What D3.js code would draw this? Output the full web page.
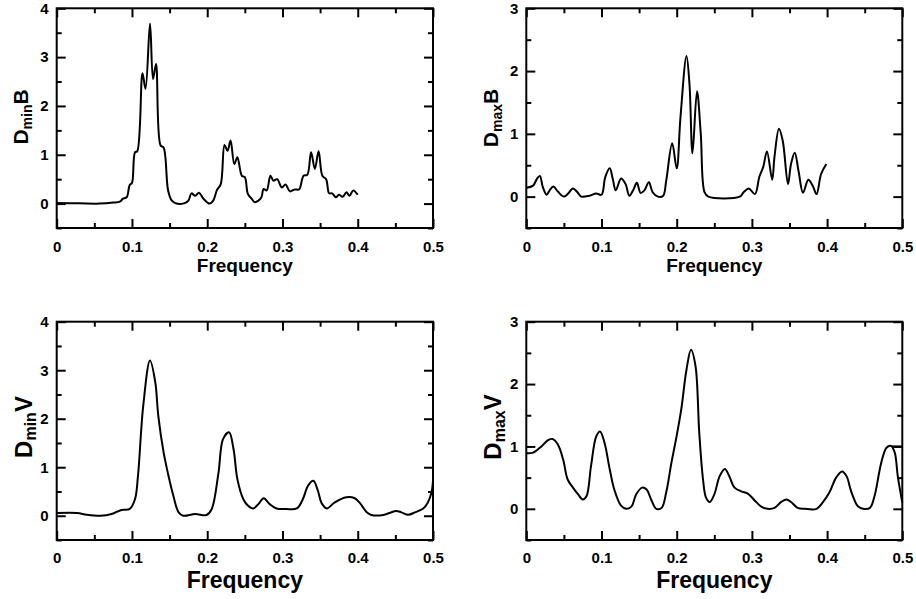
<!DOCTYPE html>
<html>
<head>
<meta charset="utf-8">
<script src="https://cdn.jsdelivr.net/npm/d3@7"></script>
<style>
  body { margin: 0; background: #fff; }
  svg { display: block; }
  text { font-family: "Liberation Sans", Arial, sans-serif; font-weight: bold; fill: #000; }
</style>
</head>
<body>
<div id="chart"></div>
<script>
// ticks
const xTicks = [0, 0.1, 0.2, 0.3, 0.4, 0.5];
const xMinor = [0.05, 0.15, 0.25, 0.35, 0.45];
const yTicksB = [0, 1, 2, 3, 4];
const yMinorB = [-0.5, 0.5, 1.5, 2.5, 3.5];
const yTicksA = [0, 1, 2, 3];
const yMinorA = [-0.5, 0.5, 1.5, 2.5];

// [frequency, value]
const minB = [
  [0, 0.01], [0.03, 0.005], [0.057, 0], [0.075, 0.02], [0.084, 0.04], [0.088, 0.1], [0.093, 0.13],
  [0.097, 0.38], [0.1, 0.42], [0.104, 1.05], [0.107, 1.07], [0.114, 2.67], [0.118, 2.35],
  [0.124, 3.69], [0.128, 2.55], [0.132, 2.86], [0.138, 1.19], [0.142, 1.15], [0.148, 0.27],
  [0.153, 0.06], [0.159, 0], [0.17, 0.01], [0.175, 0.06], [0.179, 0.21], [0.184, 0.16],
  [0.189, 0.22], [0.195, 0.1], [0.203, 0], [0.208, 0.06], [0.213, 0.28], [0.218, 0.4],
  [0.223, 1.2], [0.227, 1.08], [0.231, 1.29], [0.236, 0.81], [0.24, 0.95], [0.246, 0.57],
  [0.25, 0.54], [0.254, 0.2], [0.259, 0.1], [0.263, 0.03], [0.268, 0.06], [0.272, 0.13],
  [0.275, 0.3], [0.279, 0.27], [0.284, 0.57], [0.288, 0.47], [0.293, 0.5], [0.299, 0.33],
  [0.304, 0.39], [0.31, 0.25], [0.316, 0.29], [0.322, 0.29], [0.328, 0.57], [0.333, 0.59],
  [0.338, 1.05], [0.343, 0.71], [0.348, 1.07], [0.353, 0.57], [0.358, 0.5], [0.362, 0.21],
  [0.366, 0.21], [0.371, 0.13], [0.375, 0.18], [0.38, 0.14], [0.385, 0.23], [0.389, 0.16],
  [0.394, 0.27], [0.4, 0.18]
];

const maxB = [
  [0, 0.14], [0.009, 0.175], [0.014, 0.28], [0.018, 0.33], [0.022, 0.15], [0.027, 0.03],
  [0.031, 0.1], [0.036, 0.16], [0.042, 0.08], [0.05, 0], [0.055, 0.04], [0.062, 0.13],
  [0.068, 0.07], [0.073, 0], [0.084, 0.015], [0.093, 0.05], [0.1, 0.03], [0.105, 0.31],
  [0.111, 0.45], [0.115, 0.28], [0.119, 0.1], [0.126, 0.29], [0.132, 0.2], [0.137, 0.015],
  [0.142, 0.1], [0.147, 0.22], [0.152, 0.06], [0.157, 0.1], [0.163, 0.23], [0.168, 0.07],
  [0.175, 0], [0.182, 0.015], [0.186, 0.25], [0.194, 0.85], [0.2, 0.45], [0.205, 1.26],
  [0.213, 2.24], [0.217, 1.79], [0.221, 0.69], [0.227, 1.68], [0.232, 1.0], [0.237, 0.07],
  [0.242, 0], [0.284, 0], [0.289, 0.07], [0.296, 0.13], [0.304, 0.04], [0.31, 0.32],
  [0.315, 0.47], [0.32, 0.72], [0.327, 0.27], [0.33, 0.63], [0.336, 1.08], [0.341, 0.89],
  [0.348, 0.2], [0.352, 0.52], [0.357, 0.7], [0.362, 0.41], [0.368, 0.06], [0.375, 0.27],
  [0.381, 0.17], [0.386, 0.04], [0.392, 0.36], [0.399, 0.52]
];

const minV = [
  [0, 0.055], [0.027, 0.055], [0.04, 0.02], [0.058, 0], [0.073, 0.035], [0.086, 0.12],
  [0.097, 0.14], [0.104, 0.34], [0.108, 0.82], [0.115, 2.27], [0.124, 3.2], [0.131, 2.75],
  [0.135, 2.06], [0.142, 1.31], [0.148, 0.86], [0.155, 0.41], [0.162, 0.07], [0.168, 0],
  [0.184, 0.035], [0.199, 0.015], [0.206, 0.14], [0.215, 0.89], [0.221, 1.58], [0.229, 1.72],
  [0.235, 1.37], [0.24, 0.76], [0.248, 0.34], [0.254, 0.21], [0.261, 0.15], [0.268, 0.24],
  [0.275, 0.36], [0.283, 0.24], [0.292, 0.15], [0.305, 0.14], [0.319, 0.15], [0.327, 0.34],
  [0.334, 0.62], [0.341, 0.72], [0.347, 0.52], [0.352, 0.26], [0.359, 0.15], [0.369, 0.27],
  [0.385, 0.38], [0.396, 0.36], [0.403, 0.26], [0.412, 0.07], [0.418, 0.015], [0.434, 0.015],
  [0.442, 0.055], [0.451, 0.1], [0.458, 0.07], [0.467, 0.02], [0.476, 0.07], [0.487, 0.15],
  [0.493, 0.27], [0.498, 0.48], [0.5, 0.72]
];

const maxV = [
  [0, 0.89], [0.009, 0.9], [0.02, 1.0], [0.029, 1.1], [0.035, 1.12], [0.042, 1.03],
  [0.049, 0.79], [0.055, 0.47], [0.062, 0.34], [0.069, 0.23], [0.075, 0.15], [0.08, 0.2],
  [0.086, 0.68], [0.093, 1.16], [0.098, 1.24], [0.104, 1.06], [0.111, 0.63], [0.117, 0.31],
  [0.126, 0.05], [0.133, 0], [0.14, 0.04], [0.146, 0.23], [0.154, 0.34], [0.16, 0.31],
  [0.166, 0.15], [0.173, 0], [0.18, 0.015], [0.186, 0.26], [0.193, 0.74], [0.199, 1.11],
  [0.206, 1.59], [0.213, 2.23], [0.219, 2.55], [0.225, 2.29], [0.23, 1.22], [0.235, 0.47],
  [0.239, 0.18], [0.244, 0.11], [0.25, 0.23], [0.257, 0.52], [0.264, 0.64], [0.27, 0.52],
  [0.277, 0.34], [0.286, 0.28], [0.295, 0.24], [0.304, 0.13], [0.313, 0.03], [0.321, 0],
  [0.33, 0.015], [0.339, 0.11], [0.346, 0.15], [0.352, 0.11], [0.361, 0.015], [0.37, 0],
  [0.386, 0], [0.394, 0.1], [0.403, 0.26], [0.412, 0.5], [0.42, 0.6], [0.426, 0.52],
  [0.432, 0.28], [0.441, 0.04], [0.448, 0], [0.457, 0.015], [0.463, 0.2], [0.472, 0.74],
  [0.479, 0.98], [0.485, 1.01], [0.49, 0.9], [0.494, 0.52], [0.5, 0.1]
];
const maxVTail = [[0.486, 1.0], [0.5, 1.0]];

const W = 916, H = 599;
const svg = d3.select("#chart").append("svg").attr("width", W).attr("height", H);

const panels = [
  { x0: 56.7, x1: 433, y0: 8.3, y1: 228, yMax: 4, yt: yTicksB, ym: yMinorB, data: [minB],
    sub: "min", letter: "B", lx: 28, ly: 117, big: false },
  { x0: 526.3, x1: 902.3, y0: 8.3, y1: 228, yMax: 3, yt: yTicksA, ym: yMinorA, data: [maxB],
    sub: "max", letter: "B", lx: 498, ly: 118, big: false },
  { x0: 56.7, x1: 433, y0: 321.7, y1: 540, yMax: 4, yt: yTicksB, ym: yMinorB, data: [minV],
    sub: "min", letter: "V", lx: 32, ly: 427, big: true },
  { x0: 526.3, x1: 902.3, y0: 321.7, y1: 540, yMax: 3, yt: yTicksA, ym: yMinorA, data: [maxV, maxVTail],
    sub: "max", letter: "V", lx: 501, ly: 427, big: true }
];

panels.forEach(p => {
  const x = d3.scaleLinear().domain([0, 0.5]).range([p.x0, p.x1]);
  const y = d3.scaleLinear().domain([-0.5, p.yMax]).range([p.y1, p.y0]);
  const g = svg.append("g");
  const fmt = d => String(d);

  // bottom axis with labels, ticks pointing inward
  const bot = g.append("g").attr("transform", `translate(0,${p.y1})`)
    .call(d3.axisBottom(x).tickValues(xTicks).tickFormat(fmt).tickSizeInner(-9).tickSizeOuter(0).tickPadding(p.big ? 12 : 13));
  bot.selectAll("text").style("font-size", "15px");
  g.append("g").attr("transform", `translate(0,${p.y1})`)
    .call(d3.axisBottom(x).tickValues(xMinor).tickFormat("").tickSizeInner(-5).tickSizeOuter(0));
  g.append("g").attr("transform", `translate(0,${p.y0})`)
    .call(d3.axisTop(x).tickValues(xTicks).tickFormat("").tickSizeInner(-9).tickSizeOuter(0));
  g.append("g").attr("transform", `translate(0,${p.y0})`)
    .call(d3.axisTop(x).tickValues(xMinor).tickFormat("").tickSizeInner(-5).tickSizeOuter(0));

  const left = g.append("g").attr("transform", `translate(${p.x0},0)`)
    .call(d3.axisLeft(y).tickValues(p.yt).tickFormat(fmt).tickSizeInner(-9).tickSizeOuter(0).tickPadding(8));
  left.selectAll("text").style("font-size", "15px");
  g.append("g").attr("transform", `translate(${p.x0},0)`)
    .call(d3.axisLeft(y).tickValues(p.ym).tickFormat("").tickSizeInner(-5).tickSizeOuter(0));
  g.append("g").attr("transform", `translate(${p.x1},0)`)
    .call(d3.axisRight(y).tickValues(p.yt).tickFormat("").tickSizeInner(-9).tickSizeOuter(0));
  g.append("g").attr("transform", `translate(${p.x1},0)`)
    .call(d3.axisRight(y).tickValues(p.ym).tickFormat("").tickSizeInner(-5).tickSizeOuter(0));

  g.selectAll(".domain").remove();
  g.selectAll(".tick line").attr("stroke", "#000").attr("stroke-width", 2);

  g.append("rect")
    .attr("x", p.x0).attr("y", p.y0)
    .attr("width", p.x1 - p.x0).attr("height", p.y1 - p.y0)
    .attr("fill", "none").attr("stroke", "#000").attr("stroke-width", 2);

  const line = d3.line().x(d => x(d[0])).y(d => y(d[1])).curve(d3.curveCatmullRom.alpha(0.5));
  p.data.forEach(s => {
    g.append("path").datum(s).attr("d", line)
      .attr("fill", "none").attr("stroke", "#000").attr("stroke-width", 2)
      .attr("stroke-linejoin", "round");
  });

  // x title
  g.append("text")
    .attr("x", (p.x0 + p.x1) / 2)
    .attr("y", p.big ? 588 : 272)
    .attr("text-anchor", "middle")
    .style("font-size", p.big ? "23px" : "19px")
    .text("Frequency");

  // y title with subscript
  const yl = g.append("text")
    .attr("transform", `translate(${p.lx},${p.ly}) rotate(-90)`)
    .attr("text-anchor", "middle")
    .style("font-size", p.big ? "24px" : "21px");
  yl.append("tspan").text("D");
  yl.append("tspan").attr("baseline-shift", "-25%")
    .style("font-size", p.big ? "16px" : "14px").text(p.sub);
  yl.append("tspan").text(p.letter);
});
</script>
</body>
</html>
